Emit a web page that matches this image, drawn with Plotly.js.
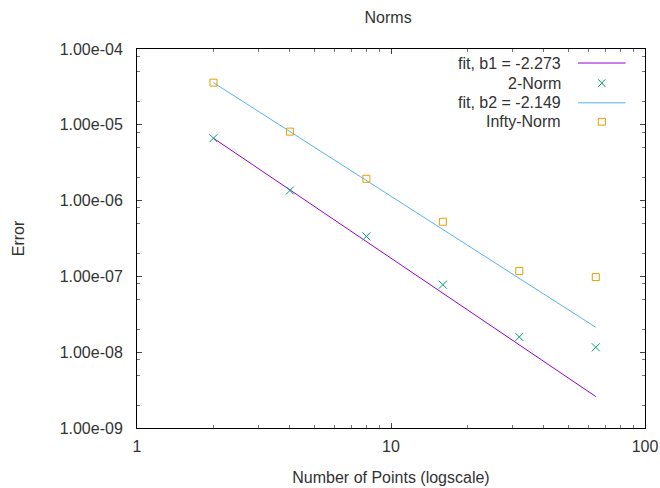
<!DOCTYPE html>
<html>
<head>
<meta charset="utf-8">
<script src="https://cdn.plot.ly/plotly-3.0.1.min.js"></script>
<style>html,body{margin:0;padding:0;background:#fff;}#chart{width:660px;height:488px;}</style>
</head>
<body>
<div id="chart"></div>
<script>
// ---- data ----
const points = [2, 4, 8, 16, 32, 64];
const norm2 = [6.65e-6, 1.36e-6, 3.37e-7, 7.78e-8, 1.59e-8, 1.16e-8];
const normInf = [3.60e-5, 8.13e-6, 1.94e-6, 5.26e-7, 1.18e-7, 9.8e-8];
const fitX = [2, 64];
const fit1 = [6.65e-6, 2.60e-9];
const fit2 = [3.60e-5, 2.13e-8];
const seriesNames = ['fit, b1 = -2.273', '2-Norm', 'fit, b2 = -2.149', 'Infty-Norm'];
const xTickVals = [1, 10, 100];
const xTickText = ['1', '10', '100'];
const yTickVals = [1e-9, 1e-8, 1e-7, 1e-6, 1e-5, 1e-4];
const yTickText = ['1.00e-09', '1.00e-08', '1.00e-07', '1.00e-06', '1.00e-05', '1.00e-04'];
const xMinor = [2,3,4,5,6,7,8,9,20,30,40,50,60,70,80,90];
const yMinorMant = [2, 5, 8];

const yMinor = [];
for (let e = -9; e < -4; e++) yMinorMant.forEach(m => yMinor.push(m * Math.pow(10, e)));

const cPurple = '#9400D3', cGreen = '#009E73', cBlue = '#56B4E9', cOrange = '#E69F00';
const FONT = 'Liberation Sans, Arial, sans-serif';

const traces = [
  {x: fitX, y: fit1, mode: 'lines', line: {color: cPurple, width: 1}, name: seriesNames[0], showlegend: false},
  {x: points, y: norm2, mode: 'markers', marker: {symbol: 'x-thin-open', size: 8, color: cGreen, line: {color: cGreen, width: 1}}, name: seriesNames[1], showlegend: false},
  {x: fitX, y: fit2, mode: 'lines', line: {color: cBlue, width: 1}, name: seriesNames[2], showlegend: false},
  {x: points, y: normInf, mode: 'markers', marker: {symbol: 'square-open', size: 7, color: cOrange, line: {color: cOrange, width: 1}}, name: seriesNames[3], showlegend: false}
];

// custom gnuplot-style key (text right-aligned, sample on the right)
const rowsY = [0.963, 0.910, 0.858, 0.808];
const annotations = seriesNames.map((t, i) => ({
  xref: 'paper', yref: 'paper', x: 0.838, y: rowsY[i], xanchor: 'right', yanchor: 'middle',
  text: t, showarrow: false, font: {family: FONT, size: 16, color: '#333'}
}));
const shapes = [
  {type: 'line', xref: 'paper', yref: 'paper', x0: 0.868, x1: 0.962, y0: rowsY[0], y1: rowsY[0], line: {color: cPurple, width: 1}},
  {type: 'line', xref: 'paper', yref: 'paper', x0: 0.868, x1: 0.962, y0: rowsY[2], y1: rowsY[2], line: {color: cBlue, width: 1}},
  {type: 'line', xref: 'paper', yref: 'paper', x0: 0.908, x1: 0.922, y0: rowsY[1] - 0.010, y1: rowsY[1] + 0.010, line: {color: cGreen, width: 1}},
  {type: 'line', xref: 'paper', yref: 'paper', x0: 0.908, x1: 0.922, y0: rowsY[1] + 0.010, y1: rowsY[1] - 0.010, line: {color: cGreen, width: 1}},
  {type: 'rect', xref: 'paper', yref: 'paper', x0: 0.908, x1: 0.922, y0: rowsY[3] - 0.009, y1: rowsY[3] + 0.009, line: {color: cOrange, width: 1}}
];

const layout = {
  width: 660, height: 488,
  margin: {l: 137, r: 15, t: 49, b: 60, pad: 0},
  paper_bgcolor: '#fff', plot_bgcolor: '#fff',
  font: {family: FONT, size: 16, color: '#333'},
  title: {text: 'Norms', x: 0.588, xanchor: 'center', y: 0.965, yanchor: 'middle', font: {family: FONT, size: 16, color: '#333'}},
  showlegend: false,
  xaxis: {
    type: 'log', range: [0, 2], tickmode: 'array', tickvals: xTickVals, ticktext: xTickText,
    ticks: 'inside', ticklen: 5, tickcolor: '#444', tickwidth: 1,
    minor: {tickmode: 'array', tickvals: xMinor, ticks: 'inside', ticklen: 3, tickcolor: '#777', tickwidth: 1, showgrid: false},
    showgrid: false, zeroline: false, showline: true, linecolor: '#000', linewidth: 1, mirror: 'allticks',
    ticklabelstandoff: 4,
    tickfont: {family: FONT, size: 16, color: '#333'},
    title: {text: 'Number of Points (logscale)', font: {family: FONT, size: 16, color: '#333'}, standoff: 17}
  },
  yaxis: {
    type: 'log', range: [-9, -4], tickmode: 'array', tickvals: yTickVals, ticktext: yTickText,
    ticks: 'inside', ticklen: 5, tickcolor: '#444', tickwidth: 1,
    minor: {tickmode: 'array', tickvals: yMinor, ticks: 'inside', ticklen: 3, tickcolor: '#777', tickwidth: 1, showgrid: false},
    showgrid: false, zeroline: false, showline: true, linecolor: '#000', linewidth: 1, mirror: 'allticks',
    ticklabelstandoff: 10,
    tickfont: {family: FONT, size: 16, color: '#333'},
    title: {text: 'Error', font: {family: FONT, size: 16, color: '#333'}, standoff: 31}
  },
  annotations: annotations,
  shapes: shapes
};

Plotly.newPlot('chart', traces, layout, {displayModeBar: false, staticPlot: true});
</script>
</body>
</html>
